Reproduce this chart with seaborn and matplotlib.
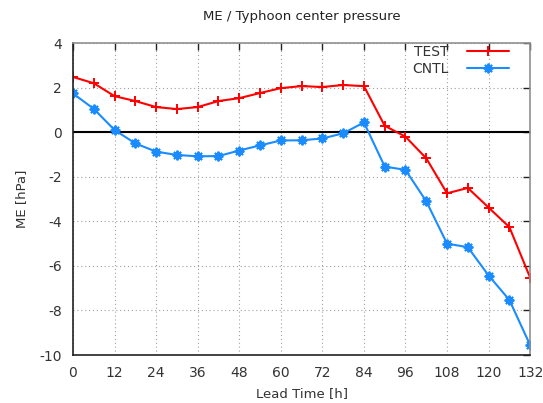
import numpy as np
import pandas as pd
import seaborn as sns
from matplotlib import pyplot as plt

lead_time = list(range(0, 133, 6))
test_me = [2.48, 2.2, 1.62, 1.4, 1.13, 1.04, 1.13, 1.4, 1.53, 1.76, 1.98, 2.07,
           2.03, 2.12, 2.07, 0.29, -0.2, -1.17, -2.74, -2.5, -3.38, -4.26, -6.53]
cntl_me = [1.74, 1.05, 0.1, -0.5, -0.87, -1.02, -1.08, -1.07, -0.82, -0.59, -0.37, -0.36,
           -0.28, -0.05, 0.44, -1.54, -1.69, -3.1, -5.0, -5.16, -6.43, -7.53, -9.56]
x_ticks = list(range(0, 133, 12))
y_ticks = list(range(-10, 5, 2))

df = pd.DataFrame({"Lead": lead_time * 2,
                   "ME": test_me + cntl_me,
                   "exp": ["TEST"] * len(test_me) + ["CNTL"] * len(cntl_me)})

sns.set_style("white")
plt.rcParams['font.family'] = ['DejaVu Sans']
plt.rcParams['axes.unicode_minus'] = False

fig = plt.figure(figsize=(5.43, 4.03), dpi=100)
ax = fig.add_axes([0.1344, 0.119, 0.842, 0.774])

ax.axhline(0, color="black", lw=1.5, zorder=1)

sns.lineplot(data=df, x="Lead", y="ME", hue="exp", style="exp", ax=ax,
             palette={"TEST": "#ff0000", "CNTL": "#1a8cff"},
             markers={"TEST": "+", "CNTL": (8, 2, 0)}, dashes=False,
             lw=1.5, markersize=7, markeredgewidth=1.4)
# seaborn paints marker edges white -> give them the line colour
for ln in ax.lines:
    ln.set_markeredgecolor(ln.get_color())

ax.set_xlim(0, 132)
ax.set_ylim(-10, 4)
ax.set_xticks(x_ticks)
ax.set_yticks(y_ticks)
ax.grid(True, color="#a0a0a0", ls=(0, (1, 2.5)), lw=0.8)
ax.tick_params(direction="in", length=5, width=1, color="#222222",
               top=True, right=True, labelsize=10, labelcolor="#333333", pad=8)
for side in ["left", "bottom"]:
    ax.spines[side].set_color("#222222")
    ax.spines[side].set_linewidth(1.2)
for side in ["top", "right"]:
    ax.spines[side].set_color("#909090")
    ax.spines[side].set_linewidth(1.2)

ax.set_xlabel("Lead Time [h]", fontsize=9.5, color="#333333", labelpad=5)
ax.set_ylabel("ME [hPa]", fontsize=9.5, color="#333333", labelpad=8)
ax.set_title("ME / Typhoon center pressure", fontsize=9.5, color="#222222", pad=17)

handles, labels = ax.get_legend_handles_labels()
for h in handles:
    h.set_markeredgecolor(h.get_color())
leg = ax.legend(handles, labels, loc="upper right", bbox_to_anchor=(0.965, 1.012),
                frameon=False, markerfirst=False, fontsize=10,
                handlelength=3.0, labelspacing=0.2, borderaxespad=0.0, handletextpad=1.3)
for t in leg.get_texts():
    t.set_color("#333333")

plt.savefig("out.png", dpi=100)
